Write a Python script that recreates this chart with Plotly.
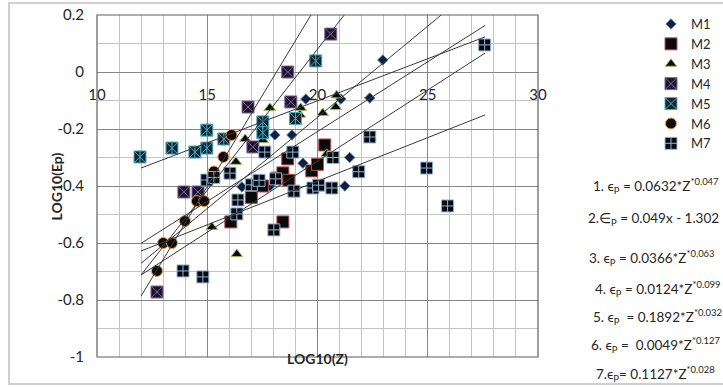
import plotly.graph_objects as go

# ---------------- data ----------------
m1_x = [16.57, 17.85, 18.07, 18.84, 19.34, 19.47, 21.06, 21.24, 21.46, 22.37, 22.96]
m1_y = [-0.403, -0.40, -0.221, -0.221, -0.32, -0.095, -0.095, -0.40, -0.30, -0.091, 0.042]

m2_x = [16.07, 17.0, 17.5, 18.16, 18.43, 18.65, 18.7, 18.43, 19.74, 20.0, 20.33]
m2_y = [-0.526, -0.44, -0.40, -0.372, -0.354, -0.305, -0.38, -0.526, -0.347, -0.324, -0.256]

m3_x = [15.21, 16.34, 16.3, 16.72, 17.52, 17.84, 19.24, 19.2, 20.24, 20.42, 20.83, 20.87]
m3_y = [-0.544, -0.639, -0.315, -0.235, -0.239, -0.126, -0.126, -0.15, -0.144, -0.287, -0.123, -0.082]

m4_x = [12.72, 13.94, 14.58, 16.85, 17.07, 18.65, 18.79, 20.6]
m4_y = [-0.772, -0.421, -0.421, -0.123, -0.263, 0.0, -0.105, 0.133]

m5_x = [11.95, 13.4, 14.44, 14.98, 14.98, 15.75, 17.52, 17.52, 19.0, 19.92]
m5_y = [-0.298, -0.267, -0.281, -0.204, -0.267, -0.235, -0.175, -0.213, -0.163, 0.039]

m6_x = [12.72, 13.0, 13.4, 13.99, 14.53, 14.86, 15.3, 15.73, 16.1]
m6_y = [-0.698, -0.60, -0.60, -0.523, -0.453, -0.453, -0.349, -0.298, -0.221]

m7_x = [13.9, 14.8, 14.98, 15.3, 16.03, 16.39, 16.34, 17.0, 17.35, 17.61, 18.1, 18.88,
        18.93, 18.02, 19.79, 20.05, 20.65, 20.7, 21.87, 22.37, 24.95, 25.9, 27.58]
m7_y = [-0.698, -0.719, -0.379, -0.37, -0.355, -0.449, -0.498, -0.396, -0.38, -0.281, -0.375, -0.281,
        -0.418, -0.554, -0.407, -0.397, -0.407, -0.30, -0.35, -0.228, -0.337, -0.47, 0.095]

# trend lines: value at x = 12 and slope, drawn from 12 to 27.6
trend_x_start = 12.0
trend_x_end = 27.6
trend_y_start = [-0.786, -0.712, -0.671, -0.601, -0.712, -0.628, -0.337]
trend_slope = [0.128, 0.099, 0.064, 0.049, 0.0499, 0.0306, 0.0295]

# tick labels
x_tick_vals = [10, 15, 20, 25, 30]
x_tick_text = ["10", "15", "20", "25", "30"]
y_tick_vals = [-1, -0.8, -0.6, -0.4, -0.2, 0, 0.2]
y_tick_text = ["-1", "-0.8", "-0.6", "-0.4", "-0.2", "0", "0.2"]

equations = [
    "1. ϵ<sub>P</sub> = 0.0632*Z<sup>*0.047</sup>",
    "2.∈<sub>P</sub> = 0.049x - 1.302",
    "3. ϵ<sub>P</sub> = 0.0366*Z<sup>*0.063</sup>",
    "4. ϵ<sub>P</sub> = 0.0124*Z<sup>*0.099</sup>",
    "5. ϵ<sub>P</sub>  = 0.1892*Z<sup>*0.032</sup>",
    "6. ϵ<sub>P</sub> =  0.0049*Z<sup>*0.127</sup>",
    "7.ϵ<sub>P</sub>= 0.1127*Z<sup>*0.028</sup>",
]
eq_px_x = [591, 586, 587, 593, 591, 589, 594]
eq_px_y = [186, 219, 258, 289, 317, 345, 374]

# ---------------- figure ----------------
FONT = "Lato"
L, R, T, B = 97, 185, 15, 30
W, H = 723, 387
PW, PH = W - L - R, H - T - B

def px_to_paper(px, py):
    return (px - L) / PW, (H - B - py) / PH

fig = go.Figure()

series = [
    ("M1", m1_x, m1_y, "diamond", 8, "#0f1f3d", "#4f81bd"),
    ("M2", m2_x, m2_y, "square", 12, "#0a0a0a", "#c0504d"),
    ("M3", m3_x, m3_y, "triangle-up", 10, "#0a0a0a", "#9bbb59"),
    ("M4", m4_x, m4_y, "square-x", 12, "#1e1628", "#8064a2"),
    ("M5", m5_x, m5_y, "square-x", 12, "#13262e", "#4bacc6"),
    ("M6", m6_x, m6_y, "circle", 11, "#0a0a0a", "#f79646"),
    ("M7", m7_x, m7_y, "square-cross", 12, "#0a0a0a", "#8db4e2"),
]
for name, xs, ys, sym, size, fill, edge in series:
    fig.add_trace(go.Scatter(
        x=xs, y=ys, mode="markers", name=name,
        marker=dict(symbol=sym, size=size, color=fill, line=dict(color=edge, width=1)),
    ))
    if name == "M5":
        fig.add_trace(go.Scatter(
            x=xs, y=ys, mode="markers", showlegend=False, hoverinfo="skip",
            marker=dict(symbol="line-ns", size=10, color=edge, line=dict(color=edge, width=1)),
        ))

for y0, s in zip(trend_y_start, trend_slope):
    y1 = y0 + s * (trend_x_end - trend_x_start)
    fig.add_trace(go.Scatter(
        x=[trend_x_start, trend_x_end], y=[y0, y1], mode="lines", showlegend=False,
        hoverinfo="skip", line=dict(color="#3a3a3a", width=1),
    ))

fig.update_xaxes(
    range=[10, 30], tickmode="array", tickvals=x_tick_vals, ticktext=x_tick_text,
    showgrid=True, gridcolor="#868686", gridwidth=1,
    minor=dict(dtick=1, tick0=10, showgrid=True, gridcolor="#c4c4c4", gridwidth=1),
    zeroline=False, showline=False, ticks="",
    anchor="free", position=1.0 / 1.2, ticklabelstandoff=12,
    tickfont=dict(family=FONT, size=15, color="#262626"),
)
fig.update_yaxes(
    range=[-1, 0.2], tickmode="array", tickvals=y_tick_vals, ticktext=y_tick_text,
    showgrid=True, gridcolor="#868686", gridwidth=1,
    minor=dict(dtick=0.1, tick0=-1, showgrid=True, gridcolor="#c4c4c4", gridwidth=1),
    zeroline=False, showline=False, ticks="", ticklabelstandoff=12,
    tickfont=dict(family=FONT, size=15, color="#262626"),
)

shapes = [
    dict(type="rect", xref="paper", yref="paper", x0=0, y0=0, x1=1, y1=1,
         line=dict(color="#5f5f5f", width=1.2), layer="above"),
]
bx0, by0 = px_to_paper(9, 384)
bx1, by1 = px_to_paper(760, 3)
shapes.append(dict(type="rect", xref="paper", yref="paper", x0=bx0, y0=by0, x1=bx1, y1=by1,
                   line=dict(color="#cfcfcf", width=2)))

annotations = []
ax, ay = px_to_paper(317, 369)
annotations.append(dict(text="<b>LOG10(Z)</b>", x=ax, y=ay, xref="paper", yref="paper",
                        showarrow=False, font=dict(family=FONT, size=14, color="#262626")))
ax, ay = px_to_paper(45, 187)
annotations.append(dict(text="<b>LOG10(Ep)</b>", x=ax, y=ay, xref="paper", yref="paper",
                        showarrow=False, textangle=-90, font=dict(family=FONT, size=14, color="#262626")))
for txt, ex, ey in zip(equations, eq_px_x, eq_px_y):
    px_, py_ = px_to_paper(ex, ey)
    annotations.append(dict(text=txt, x=px_, y=py_, xref="paper", yref="paper",
                            xanchor="left", yanchor="middle", showarrow=False,
                            font=dict(family=FONT, size=13.5, color="#262626")))

lx, ly = px_to_paper(651, 9)
fig.update_layout(
    width=W, height=H, margin=dict(l=L, r=R, t=T, b=B, autoexpand=False),
    paper_bgcolor="white", plot_bgcolor="white",
    shapes=shapes, annotations=annotations,
    legend=dict(x=lx, y=ly, xanchor="left", yanchor="top", xref="paper", yref="paper",
                font=dict(family=FONT, size=13, color="#262626"), bgcolor="rgba(0,0,0,0)",
                itemwidth=30, tracegroupgap=0),
    showlegend=True,
)

fig.write_html("out.html")
